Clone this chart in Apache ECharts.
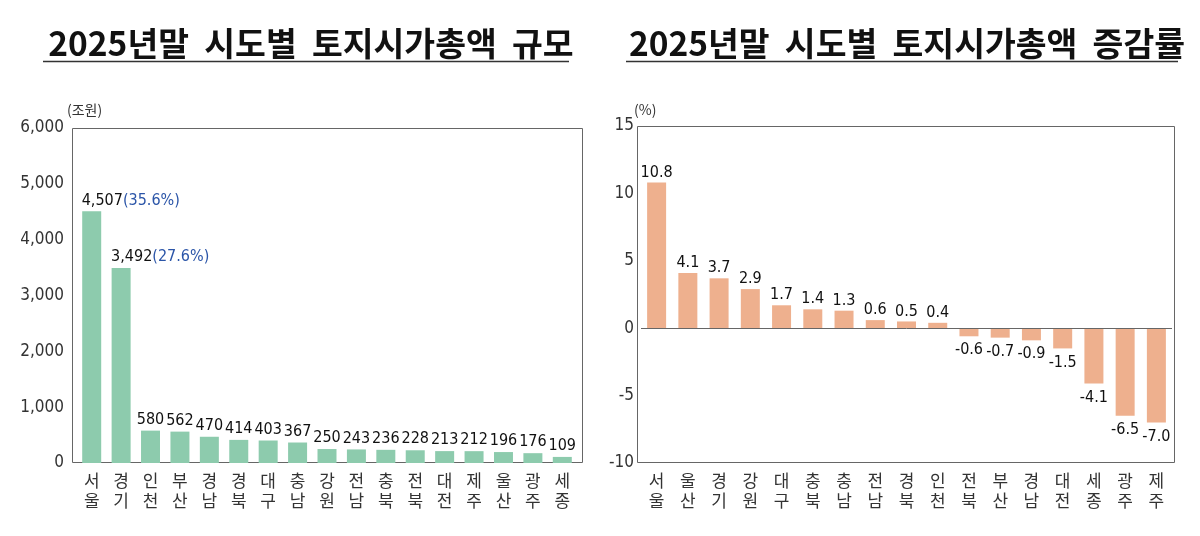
<!DOCTYPE html>
<html>
<head>
<meta charset="utf-8">
<script src="https://cdn.jsdelivr.net/npm/echarts@6/dist/echarts.min.js"></script>
<style>
  html, body { margin: 0; padding: 0; background: #fff; }
  #chart { width: 1200px; height: 536px; }
</style>
</head>
<body>
<div id="chart"></div>
<script>
// 토지시가총액 규모 (조원)
const sizeRegions = ['서\n울', '경\n기', '인\n천', '부\n산', '경\n남', '경\n북', '대\n구', '충\n남', '강\n원', '전\n남', '충\n북', '전\n북', '대\n전', '제\n주', '울\n산', '광\n주', '세\n종'];
const sizeValues = [4507, 3492, 580, 562, 470, 414, 403, 367, 250, 243, 236, 228, 213, 212, 196, 176, 109];
const sizeShares = ['35.6%', '27.6%'];

// 토지시가총액 증감률 (%)
const rateRegions = ['서\n울', '울\n산', '경\n기', '강\n원', '대\n구', '충\n북', '충\n남', '전\n남', '경\n북', '인\n천', '전\n북', '부\n산', '경\n남', '대\n전', '세\n종', '광\n주', '제\n주'];
const rateValues = [10.8, 4.1, 3.7, 2.9, 1.7, 1.4, 1.3, 0.6, 0.5, 0.4, -0.6, -0.7, -0.9, -1.5, -4.1, -6.5, -7.0];

const KFONT = '"Noto Sans CJK KR", "Noto Sans", sans-serif';
const NFONT = '"DejaVu Sans Condensed", Roboto, sans-serif';
const green = '#8dcbad';
const orange = '#eeb08e';
const frame = '#666';

const chart = echarts.init(document.getElementById('chart'));

const sizeData = sizeValues.map(function (v, i) {
  if (i < sizeShares.length) {
    return {
      value: v,
      label: {
        align: 'left',
        offset: [-10, 0],
        formatter: '{a|' + v.toLocaleString('en-US') + '}{b|(' + sizeShares[i] + ')}'
      }
    };
  }
  return v;
});

const rateData = rateValues.map(function (v) {
  return { value: v, label: { position: v < 0 ? 'bottom' : 'top', distance: v < 0 ? 6 : 2 } };
});

const titleStyle = { fontFamily: KFONT, fontSize: 33.5, fontWeight: 'bold', color: '#111' };

const option = {
  animation: false,
  title: [
    { text: '2025년말  시도별  토지시가총액  규모', left: 306, top: 22, textAlign: 'center', textStyle: titleStyle },
    { text: '2025년말  시도별  토지시가총액  증감률', left: 902, top: 22, textAlign: 'center', textStyle: titleStyle }
  ],
  graphic: [
    { type: 'line', shape: { x1: 43, y1: 61.5, x2: 569, y2: 61.5 }, style: { stroke: '#333', lineWidth: 1.5 } },
    { type: 'line', shape: { x1: 626, y1: 61.5, x2: 1178, y2: 61.5 }, style: { stroke: '#333', lineWidth: 1.5 } },
    { type: 'rect', shape: { x: 72.5, y: 128.5, width: 510, height: 334 }, style: { fill: 'none', stroke: frame, lineWidth: 1 } },
    { type: 'rect', shape: { x: 637.5, y: 126.5, width: 537, height: 336 }, style: { fill: 'none', stroke: frame, lineWidth: 1 } },
    { type: 'text', left: 67, top: 103, style: { text: '(조원)', fontFamily: KFONT, fontSize: 14, fill: '#333' } },
    { type: 'text', left: 634, top: 103, style: { text: '(%)', fontFamily: KFONT, fontSize: 14, fill: '#333' } }
  ],
  grid: [
    { left: 77, top: 128, width: 500, height: 335 },
    { left: 641, top: 126, width: 531, height: 337 }
  ],
  xAxis: [
    {
      type: 'category', gridIndex: 0, data: sizeRegions,
      axisLine: { show: false }, axisTick: { show: false },
      axisLabel: { interval: 0, margin: 8, fontFamily: KFONT, fontSize: 17, lineHeight: 20, color: '#333' }
    },
    {
      type: 'category', gridIndex: 1, data: rateRegions,
      axisLine: { show: false, onZero: false }, axisTick: { show: false },
      axisLabel: { interval: 0, margin: 8, fontFamily: KFONT, fontSize: 17, lineHeight: 20, color: '#333' }
    }
  ],
  yAxis: [
    {
      type: 'value', gridIndex: 0, min: 0, max: 6000, interval: 1000,
      axisLine: { show: false }, axisTick: { show: false }, splitLine: { show: false },
      axisLabel: {
        margin: 13, fontFamily: NFONT, fontSize: 17, color: '#333',
        formatter: function (v) { return v.toLocaleString('en-US'); }
      }
    },
    {
      type: 'value', gridIndex: 1, min: -10, max: 15, interval: 5,
      axisLine: { show: false }, axisTick: { show: false }, splitLine: { show: false },
      axisLabel: { margin: 7, fontFamily: NFONT, fontSize: 17, color: '#333' }
    }
  ],
  series: [
    {
      type: 'bar', xAxisIndex: 0, yAxisIndex: 0, data: sizeData, barWidth: 19,
      itemStyle: { color: green },
      label: {
        show: true, position: 'top', distance: 3,
        fontFamily: NFONT, fontSize: 16, fontWeight: 500, color: '#111',
        rich: {
          a: { fontFamily: NFONT, fontSize: 16, fontWeight: 500, color: '#111' },
          b: { fontFamily: NFONT, fontSize: 16, fontWeight: 500, color: '#2b55a8' }
        }
      }
    },
    {
      type: 'bar', xAxisIndex: 1, yAxisIndex: 1, data: rateData, barWidth: 19,
      itemStyle: { color: orange },
      label: {
        show: true,
        fontFamily: NFONT, fontSize: 16, fontWeight: 500, color: '#111',
        formatter: function (p) { return p.value.toFixed(1); }
      },
      markLine: {
        silent: true, symbol: 'none', label: { show: false },
        lineStyle: { color: frame, type: 'solid', width: 1 },
        data: [{ yAxis: 0 }]
      }
    }
  ]
};

chart.setOption(option);
</script>
</body>
</html>
